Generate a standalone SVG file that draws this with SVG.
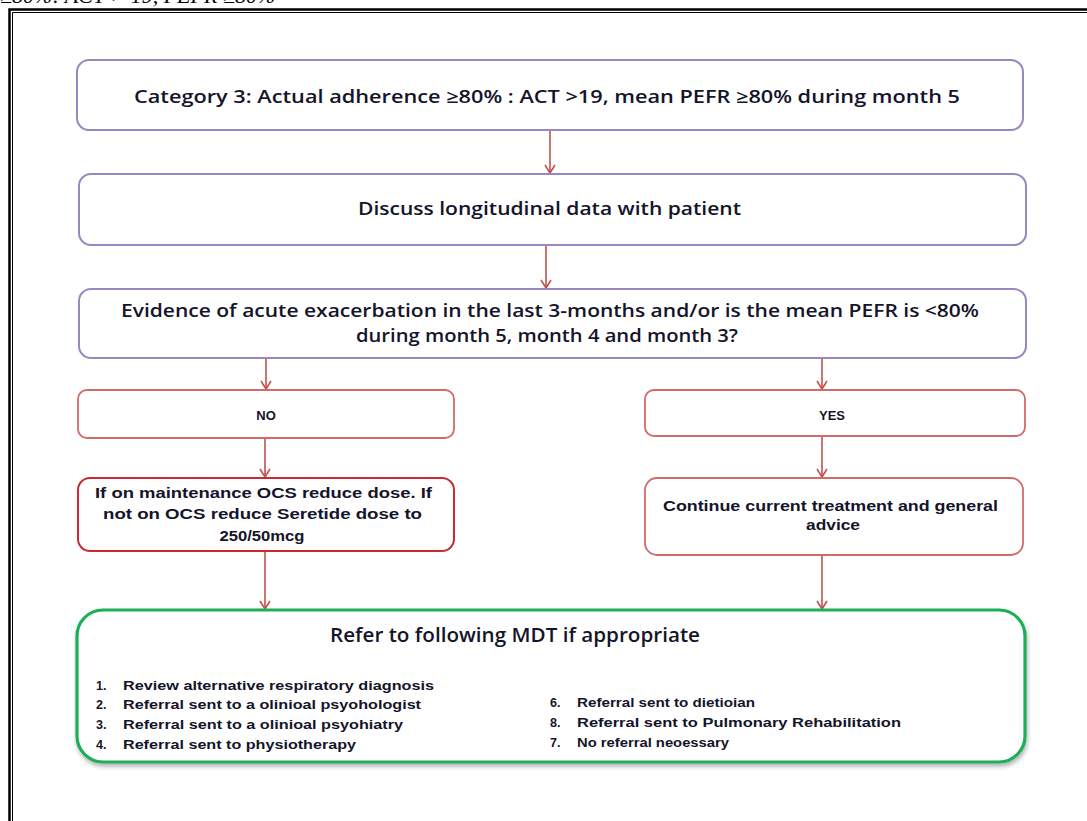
<svg xmlns="http://www.w3.org/2000/svg" width="1087" height="821" viewBox="0 0 1087 821">
<defs>
<style>
.pbox{fill:#fff;stroke:#9a86c2;stroke-width:2}
.rbox{fill:#fff;stroke:#d26a6a;stroke-width:1.8}
.rbox2{fill:#fff;stroke:#cc2a30;stroke-width:2}
.gbox{fill:#fff;stroke:#1fae58;stroke-width:3.2}
.conn{stroke:#c0504d;stroke-width:1.6;fill:none;marker-end:url(#arr)}
.cal{font-family:"Open Sans","Liberation Sans",sans-serif;font-weight:600;fill:#14142a}
.ari{font-family:"Liberation Sans",Arial,sans-serif;font-weight:bold;fill:#14142a}
</style>
<marker id="arr" viewBox="0 0 10 12" refX="9" refY="6" markerWidth="10" markerHeight="12" markerUnits="userSpaceOnUse" orient="auto">
<path d="M1,1 L9,6 L1,11" fill="none" stroke="#c0504d" stroke-width="1.6"/>
</marker>
<filter id="sh" x="-5%" y="-10%" width="110%" height="125%">
<feDropShadow dx="1" dy="3" stdDeviation="2" flood-color="#000" flood-opacity="0.3"/>
</filter>
</defs>
<rect width="1087" height="821" fill="#fff"/>
<text x="0" y="3" font-family="Liberation Serif" font-style="italic" font-size="22" fill="#000">≥80%: ACT &gt; 19, PEFR ≥80%</text>
<g id="frame" fill="none" stroke="#000">
<path d="M9.5,821 V9.5 H1087" stroke-width="2.5"/>
<path d="M12.5,821 V12.5 H1087" stroke-width="1"/>
</g>
<g id="connectors">
<line class="conn" x1="550" y1="131" x2="550" y2="173"/>
<line class="conn" x1="546" y1="246" x2="546" y2="288"/>
<line class="conn" x1="266" y1="359" x2="266" y2="389"/>
<line class="conn" x1="822" y1="359" x2="822" y2="389"/>
<line class="conn" x1="265" y1="439" x2="265" y2="477"/>
<line class="conn" x1="822" y1="437" x2="822" y2="477"/>
<line class="conn" x1="265" y1="552" x2="265" y2="609"/>
<line class="conn" x1="822" y1="556" x2="822" y2="609"/>
</g>
<g id="node-category">
<rect class="pbox" x="77" y="60" width="946" height="70" rx="12"/>
<text class="cal" x="134" y="103" font-size="18" textLength="826" lengthAdjust="spacingAndGlyphs">Category 3: Actual  adherence ≥80%  :   ACT  &gt;19, mean PEFR  ≥80%  during month 5</text>
</g>
<g id="node-discuss">
<rect class="pbox" x="79" y="174" width="947" height="71" rx="12"/>
<text class="cal" x="358" y="215" font-size="18" textLength="383" lengthAdjust="spacingAndGlyphs">Discuss longitudinal data with patient</text>
</g>
<g id="node-evidence">
<rect class="pbox" x="79" y="289" width="947" height="69" rx="12"/>
<text class="cal" x="121" y="317" font-size="18" textLength="858" lengthAdjust="spacingAndGlyphs">Evidence of acute exacerbation in the last 3-months and/or is the  mean PEFR is &lt;80%</text>
<text class="cal" x="356" y="342" font-size="18" textLength="382" lengthAdjust="spacingAndGlyphs">during month 5, month 4 and month 3?</text>
</g>
<g id="node-no">
<rect class="rbox" x="78" y="390" width="376" height="48" rx="9"/>
<text class="ari" x="266" y="420" font-size="13" text-anchor="middle">NO</text>
</g>
<g id="node-yes">
<rect class="rbox" x="645" y="390" width="380" height="46" rx="9"/>
<text class="ari" x="832" y="420" font-size="13" text-anchor="middle">YES</text>
</g>
<g id="node-ocs">
<rect class="rbox2" x="78" y="478" width="376" height="73" rx="12"/>
<text class="ari" x="95" y="498" font-size="14" textLength="337" lengthAdjust="spacingAndGlyphs">If on maintenance  OCS  reduce  dose.   If</text>
<text class="ari" x="103" y="519" font-size="14" textLength="319" lengthAdjust="spacingAndGlyphs">not on OCS  reduce  Seretide   dose  to</text>
<text class="ari" x="262" y="541" font-size="14" text-anchor="middle" textLength="85" lengthAdjust="spacingAndGlyphs">250/50mcg</text>
</g>
<g id="node-continue">
<rect class="rbox" x="645" y="478" width="378" height="77" rx="12"/>
<text class="ari" x="663" y="511" font-size="14" textLength="335" lengthAdjust="spacingAndGlyphs">Continue current  treatment and  general</text>
<text class="ari" x="833" y="530" font-size="14" text-anchor="middle" textLength="54" lengthAdjust="spacingAndGlyphs">advice</text>
</g>
<g id="node-refer">
<rect class="gbox" x="77" y="610" width="948" height="152" rx="26" filter="url(#sh)"/>
<text class="cal" x="330" y="642" font-size="19" textLength="370" lengthAdjust="spacingAndGlyphs">Refer to following MDT if appropriate</text>
<g class="ari" font-size="12.5">
<text x="96" y="690">1.</text><text x="123" y="690" textLength="311" lengthAdjust="spacingAndGlyphs">Review alternative  respiratory  diagnosis</text>
<text x="96" y="709">2.</text><text x="123" y="709" textLength="298" lengthAdjust="spacingAndGlyphs">Referral  sent  to a olinioal  psyohologist</text>
<text x="96" y="729">3.</text><text x="123" y="729" textLength="280" lengthAdjust="spacingAndGlyphs">Referral  sent  to a olinioal  psyohiatry</text>
<text x="96" y="749">4.</text><text x="123" y="749" textLength="233" lengthAdjust="spacingAndGlyphs">Referral  sent  to  physiotherapy</text>
<text x="550" y="707">6.</text><text x="577" y="707" textLength="178" lengthAdjust="spacingAndGlyphs">Referral  sent  to  dietioian</text>
<text x="550" y="727">8.</text><text x="577" y="727" textLength="324" lengthAdjust="spacingAndGlyphs">Referral  sent  to Pulmonary  Rehabilitation</text>
<text x="550" y="747">7.</text><text x="577" y="747" textLength="152" lengthAdjust="spacingAndGlyphs">No  referral neoessary</text>
</g>
</g>
</svg>
